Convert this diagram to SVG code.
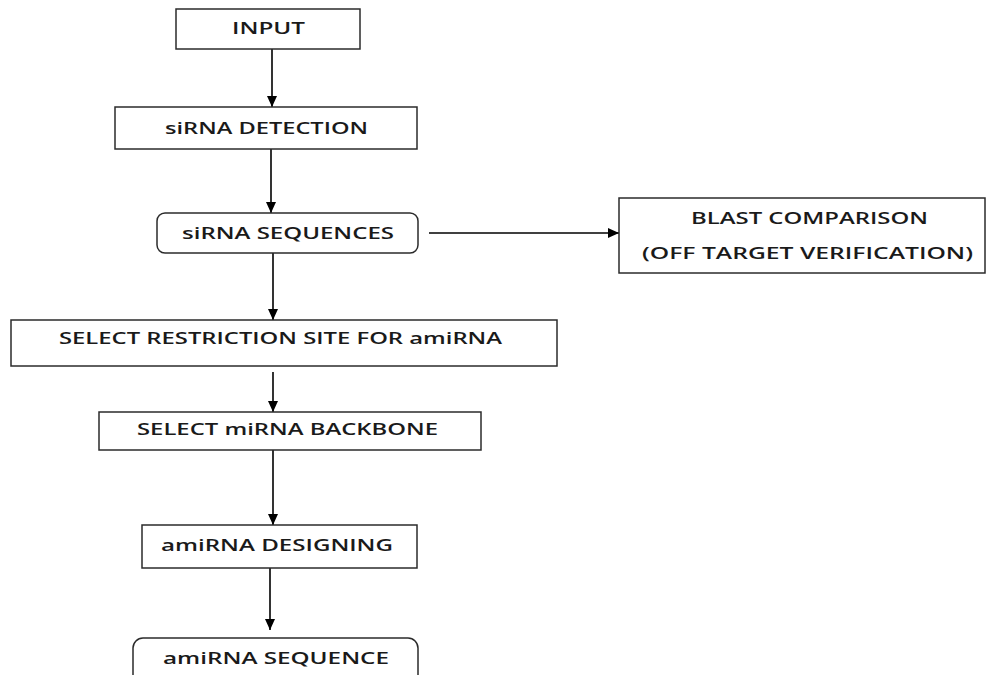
<svg xmlns="http://www.w3.org/2000/svg" width="986" height="675" viewBox="0 0 986 675">
<style>
.box{fill:#fff;stroke:#2b2b2b;stroke-width:1.5}
.lbl{font-family:"Open Sans","Noto Sans","Liberation Sans",sans-serif;font-size:17px;font-weight:600;fill:#1a1a1a;text-anchor:start}
.con{stroke:#000;stroke-width:1.6;fill:none;marker-end:url(#ah)}
</style>
<defs>
<marker id="ah" markerUnits="userSpaceOnUse" markerWidth="11" markerHeight="10" refX="11" refY="5" orient="auto">
<path d="M0,0 L11,5 L0,10 z" fill="#000"/>
</marker>
</defs>
<rect width="986" height="675" fill="#fff"/>
<g id="connectors">
<line class="con" x1="272" y1="49" x2="272" y2="107"/>
<line class="con" x1="271" y1="149" x2="271" y2="213"/>
<line class="con" x1="429" y1="233" x2="619" y2="233"/>
<line class="con" x1="273" y1="253" x2="273" y2="320"/>
<line class="con" x1="273" y1="372" x2="273" y2="412"/>
<line class="con" x1="273" y1="450" x2="273" y2="525"/>
<line class="con" x1="270" y1="568" x2="270" y2="630"/>
</g>
<g id="input">
<rect class="box" x="176" y="9" width="184" height="40"/>
<text class="lbl" x="232" y="34" textLength="73" lengthAdjust="spacingAndGlyphs">INPUT</text>
</g>
<g id="sirna-detection">
<rect class="box" x="115" y="107" width="302" height="42"/>
<text class="lbl" x="165" y="134" textLength="203" lengthAdjust="spacingAndGlyphs">siRNA DETECTION</text>
</g>
<g id="sirna-sequences">
<rect class="box" x="157" y="213" width="261" height="40" rx="8"/>
<text class="lbl" x="182" y="239" textLength="212" lengthAdjust="spacingAndGlyphs">siRNA SEQUENCES</text>
</g>
<g id="blast">
<rect class="box" x="619" y="198" width="366" height="75"/>
<text class="lbl" x="691" y="224" textLength="237" lengthAdjust="spacingAndGlyphs">BLAST COMPARISON</text>
<text class="lbl" x="642" y="259" textLength="331" lengthAdjust="spacingAndGlyphs">(OFF TARGET VERIFICATION)</text>
</g>
<g id="restriction">
<rect class="box" x="11" y="320" width="546" height="46"/>
<text class="lbl" x="59" y="344" textLength="443" lengthAdjust="spacingAndGlyphs">SELECT RESTRICTION SITE FOR amiRNA</text>
</g>
<g id="backbone">
<rect class="box" x="99" y="412" width="382" height="38"/>
<text class="lbl" x="137" y="435" textLength="301" lengthAdjust="spacingAndGlyphs">SELECT miRNA BACKBONE</text>
</g>
<g id="designing">
<rect class="box" x="142" y="525" width="275" height="43"/>
<text class="lbl" x="161" y="551" textLength="232" lengthAdjust="spacingAndGlyphs">amiRNA DESIGNING</text>
</g>
<g id="sequence">
<rect class="box" x="133" y="638" width="285" height="50" rx="10"/>
<text class="lbl" x="163" y="664" textLength="226" lengthAdjust="spacingAndGlyphs">amiRNA SEQUENCE</text>
</g>
</svg>
